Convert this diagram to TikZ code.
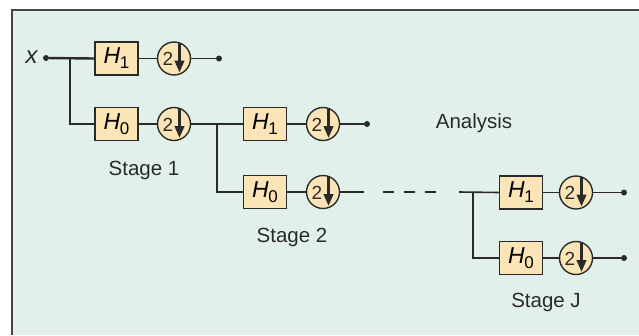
\documentclass[tikz,border=0pt]{standalone}
\usepackage{fontspec}
\setmainfont{Liberation Sans}
\usetikzlibrary{calc,arrows.meta}
\definecolor{bgc}{HTML}{E2F0EB}
\definecolor{boxc}{HTML}{FBE5B6}
\definecolor{inkc}{HTML}{2A2A2A}
\definecolor{framec}{HTML}{444444}
\newcommand{\Hsub}[1]{\textit{H}\kern-0.5pt\raisebox{-0.4ex}{\fontsize{17}{17}\selectfont #1}}
\newcommand{\dsnode}[3]{%
  \node[dscircle] (#1) at (#2,#3) {};
  \node[dstext] (#1-two) at ($(#1)+(-6,0.5)$) {2};
  \draw[dsarrow] ($(#1)+(5.5,-16)$) -- ($(#1)+(5.5,14)$);}
\tikzset{
  filt/.style={draw=inkc, line width=1.4pt, fill=boxc, minimum width=43pt, minimum height=33pt, inner sep=0pt, font=\fontsize{23}{24}\selectfont},
  dscircle/.style={circle, draw=inkc, line width=1.4pt, fill=boxc, minimum size=33pt, inner sep=0pt},
  dstext/.style={inner sep=0pt, font=\fontsize{19}{20}\selectfont, text=inkc},
  dsarrow/.style={draw=inkc, line width=2.6pt, -{Triangle[length=12pt,width=9.5pt]}},
  wire/.style={draw=inkc, line width=1.6pt},
  trunk/.style={draw=inkc, line width=2.4pt},
  pin/.style={circle, fill=inkc, inner sep=0pt, minimum size=6pt},
  lab/.style={inner sep=0pt, text=inkc, font=\fontsize{20.5}{22}\selectfont, anchor=base},
}
\begin{document}
\begin{tikzpicture}[x=1pt,y=-1pt]
\useasboundingbox (0,0) rectangle (639,335);
\fill[bgc] (12,10) rectangle (639,335);
\draw[framec, line width=2pt] (12,335) -- (12,10) -- (639,10);

% Stage 1
\node[inner sep=0pt, text=inkc, font=\fontsize{24}{24}\selectfont] (xin) at (32,57) {\textit{x}};
\node[pin] (xdot) at (46,58) {};
\coordinate (j1) at (70,58);
\node[filt] (h1a) at (116.5,58.5) {\Hsub{1}};
\node[filt] (h0a) at (116.5,124) {\Hsub{0}};
\dsnode{d1a}{174}{58.5}
\dsnode{d0a}{174}{124}
\node[pin] (o1a) at (219,58.5) {};
\draw[trunk] (xdot) -- (h1a.west);
\draw[wire] (j1) |- (h0a.west);
\draw[wire] (h1a) -- (d1a);
\draw[wire] (d1a) -- (o1a);
\draw[wire] (h0a) -- (d0a);

% Stage 2
\coordinate (j2) at (217,124);
\node[filt] (h1b) at (265,124) {\Hsub{1}};
\node[filt] (h0b) at (265,192) {\Hsub{0}};
\dsnode{d1b}{323}{124}
\dsnode{d0b}{323}{192}
\node[pin] (o1b) at (367,124) {};
\coordinate (e0b) at (364,192);
\draw[trunk] (d0a) -- (h1b.west);
\draw[wire] (j2) |- (h0b.west);
\draw[wire] (h1b) -- (d1b);
\draw[wire] (d1b) -- (o1b);
\draw[wire] (h0b) -- (d0b);
\draw[wire] (d0b) -- (e0b);

% dashes
\coordinate (ds) at (383,192);
\coordinate (de) at (437,192);
\draw[inkc, line width=2.2pt, dash pattern=on 10.5pt off 10.5pt] (ds) -- (de);

% Stage J
\coordinate (sj) at (459,192);
\coordinate (j3) at (473,192);
\node[filt] (h1c) at (521,192.5) {\Hsub{1}};
\node[filt] (h0c) at (521,258) {\Hsub{0}};
\dsnode{d1c}{576}{192.5}
\dsnode{d0c}{576}{258}
\node[pin] (o1c) at (624,192.5) {};
\node[pin] (o0c) at (624,258) {};
\draw[wire] (sj) -- (h1c.west);
\draw[wire] (j3) |- (h0c.west);
\draw[wire] (h1c) -- (d1c);
\draw[wire] (d1c) -- (o1c);
\draw[wire] (h0c) -- (d0c);
\draw[wire] (d0c) -- (o0c);

% labels
\node[lab] (s1) at (144,175) {Stage 1};
\node[lab] (s2) at (292,242) {Stage 2};
\node[lab] (sJ) at (546,307) {Stage J};
\node[lab] (an) at (474,128) {Analysis};
\end{tikzpicture}
\end{document}
